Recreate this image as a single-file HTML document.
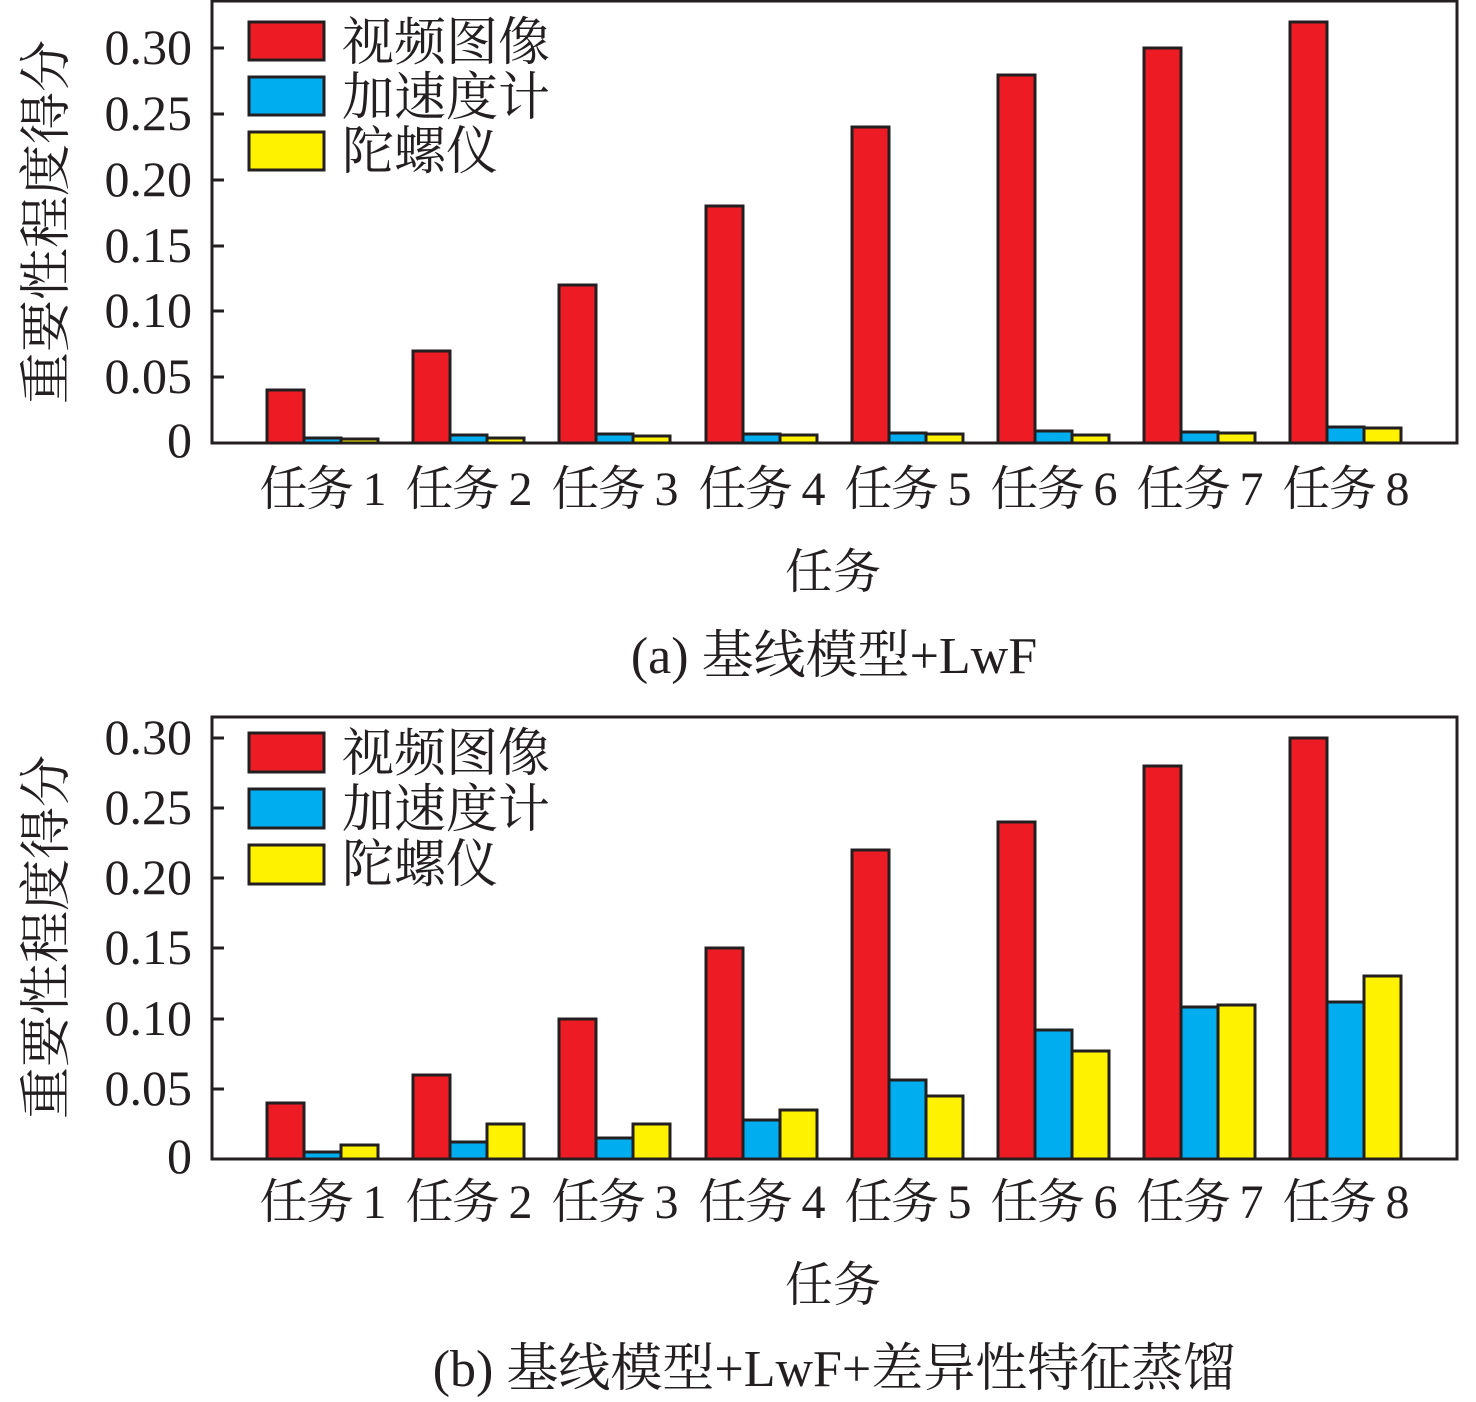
<!DOCTYPE html>
<html><head><meta charset="utf-8"><style>
body{margin:0;background:#fff}
svg{display:block}
text{font-family:"Liberation Serif","Noto Serif CJK SC",serif;fill:#231f20}
.t{font-size:50px;text-anchor:end}
.x{font-size:48px;text-anchor:middle}
.c{font-size:52px;text-anchor:middle}
.lg{font-size:52px}
rect.b{stroke:#231f20;stroke-width:3}
.r{fill:#ed1c24}.u{fill:#00aeef}.y{fill:#fff200}
</style></head><body>
<svg width="1476" height="1402" viewBox="0 0 1476 1402">
<!-- Chart A -->
<g>
<rect class="b r" x="267" y="390" width="37" height="53"/><rect class="b u" x="304" y="438" width="37" height="5"/><rect class="b y" x="341" y="439" width="37" height="4"/>
<rect class="b r" x="413" y="351" width="37" height="92"/><rect class="b u" x="450" y="435" width="37" height="8"/><rect class="b y" x="487" y="438" width="37" height="5"/>
<rect class="b r" x="559" y="285" width="37" height="158"/><rect class="b u" x="596" y="434" width="37" height="9"/><rect class="b y" x="633" y="436" width="37" height="7"/>
<rect class="b r" x="706" y="206" width="37" height="237"/><rect class="b u" x="743" y="434" width="37" height="9"/><rect class="b y" x="780" y="435" width="37" height="8"/>
<rect class="b r" x="852" y="127" width="37" height="316"/><rect class="b u" x="889" y="433" width="37" height="10"/><rect class="b y" x="926" y="434" width="37" height="9"/>
<rect class="b r" x="998" y="75" width="37" height="368"/><rect class="b u" x="1035" y="431" width="37" height="12"/><rect class="b y" x="1072" y="435" width="37" height="8"/>
<rect class="b r" x="1144" y="48" width="37" height="395"/><rect class="b u" x="1181" y="432" width="37" height="11"/><rect class="b y" x="1218" y="433" width="37" height="10"/>
<rect class="b r" x="1290" y="22" width="37" height="421"/><rect class="b u" x="1327" y="427" width="37" height="16"/><rect class="b y" x="1364" y="428" width="37" height="15"/>
<rect x="212" y="1" width="1245" height="442" fill="none" stroke="#231f20" stroke-width="3"/>
<g stroke="#231f20" stroke-width="3">
<line x1="212" y1="48" x2="224" y2="48"/><line x1="212" y1="114" x2="224" y2="114"/><line x1="212" y1="180" x2="224" y2="180"/><line x1="212" y1="246" x2="224" y2="246"/><line x1="212" y1="311" x2="224" y2="311"/><line x1="212" y1="377" x2="224" y2="377"/>
</g>
<text class="t" x="192" y="64">0.30</text><text class="t" x="192" y="130">0.25</text><text class="t" x="192" y="196">0.20</text><text class="t" x="192" y="262">0.15</text><text class="t" x="192" y="327">0.10</text><text class="t" x="192" y="393">0.05</text><text class="t" x="192" y="457">0</text>
<rect class="b r" x="249" y="22" width="75" height="38"/><rect class="b u" x="249" y="77" width="75" height="38"/><rect class="b y" x="249" y="132" width="75" height="38"/>
<text class="lg" x="342" y="60">视频图像</text><text class="lg" x="342" y="115">加速度计</text><text class="lg" x="342" y="169">陀螺仪</text>
<text class="x" x="323" y="505" textLength="127">任务 1</text><text class="x" x="469" y="505" textLength="127">任务 2</text><text class="x" x="615" y="505" textLength="127">任务 3</text><text class="x" x="762" y="505" textLength="127">任务 4</text><text class="x" x="908" y="505" textLength="127">任务 5</text><text class="x" x="1054" y="505" textLength="127">任务 6</text><text class="x" x="1200" y="505" textLength="127">任务 7</text><text class="x" x="1346" y="505" textLength="127">任务 8</text>
<text class="x" x="833" y="588">任务</text>
<text class="c" x="834" y="673">(a) 基线模型+LwF</text>
<text class="c" transform="translate(64,222) rotate(-90)">重要性程度得分</text>
</g>
<!-- Chart B -->
<g>
<rect class="b r" x="267" y="1103" width="37" height="56"/><rect class="b u" x="304" y="1152" width="37" height="7"/><rect class="b y" x="341" y="1145" width="37" height="14"/>
<rect class="b r" x="413" y="1075" width="37" height="84"/><rect class="b u" x="450" y="1142" width="37" height="17"/><rect class="b y" x="487" y="1124" width="37" height="35"/>
<rect class="b r" x="559" y="1019" width="37" height="140"/><rect class="b u" x="596" y="1138" width="37" height="21"/><rect class="b y" x="633" y="1124" width="37" height="35"/>
<rect class="b r" x="706" y="948" width="37" height="211"/><rect class="b u" x="743" y="1120" width="37" height="39"/><rect class="b y" x="780" y="1110" width="37" height="49"/>
<rect class="b r" x="852" y="850" width="37" height="309"/><rect class="b u" x="889" y="1080" width="37" height="79"/><rect class="b y" x="926" y="1096" width="37" height="63"/>
<rect class="b r" x="998" y="822" width="37" height="337"/><rect class="b u" x="1035" y="1030" width="37" height="129"/><rect class="b y" x="1072" y="1051" width="37" height="108"/>
<rect class="b r" x="1144" y="766" width="37" height="393"/><rect class="b u" x="1181" y="1007" width="37" height="152"/><rect class="b y" x="1218" y="1005" width="37" height="154"/>
<rect class="b r" x="1290" y="738" width="37" height="421"/><rect class="b u" x="1327" y="1002" width="37" height="157"/><rect class="b y" x="1364" y="976" width="37" height="183"/>
<rect x="212" y="717" width="1245" height="442" fill="none" stroke="#231f20" stroke-width="3"/>
<g stroke="#231f20" stroke-width="3">
<line x1="212" y1="738" x2="224" y2="738"/><line x1="212" y1="808" x2="224" y2="808"/><line x1="212" y1="878" x2="224" y2="878"/><line x1="212" y1="948" x2="224" y2="948"/><line x1="212" y1="1019" x2="224" y2="1019"/><line x1="212" y1="1089" x2="224" y2="1089"/>
</g>
<text class="t" x="192" y="754">0.30</text><text class="t" x="192" y="824">0.25</text><text class="t" x="192" y="894">0.20</text><text class="t" x="192" y="964">0.15</text><text class="t" x="192" y="1035">0.10</text><text class="t" x="192" y="1105">0.05</text><text class="t" x="192" y="1173">0</text>
<rect class="b r" x="249" y="733" width="75" height="39"/><rect class="b u" x="249" y="789" width="75" height="39"/><rect class="b y" x="249" y="845" width="75" height="39"/>
<text class="lg" x="342" y="771">视频图像</text><text class="lg" x="342" y="827">加速度计</text><text class="lg" x="342" y="882">陀螺仪</text>
<text class="x" x="323" y="1218" textLength="127">任务 1</text><text class="x" x="469" y="1218" textLength="127">任务 2</text><text class="x" x="615" y="1218" textLength="127">任务 3</text><text class="x" x="762" y="1218" textLength="127">任务 4</text><text class="x" x="908" y="1218" textLength="127">任务 5</text><text class="x" x="1054" y="1218" textLength="127">任务 6</text><text class="x" x="1200" y="1218" textLength="127">任务 7</text><text class="x" x="1346" y="1218" textLength="127">任务 8</text>
<text class="x" x="833" y="1301">任务</text>
<text class="c" x="834" y="1386">(b) 基线模型+LwF+差异性特征蒸馏</text>
<text class="c" transform="translate(64,937) rotate(-90)">重要性程度得分</text>
</g>
</svg>
</body></html>
